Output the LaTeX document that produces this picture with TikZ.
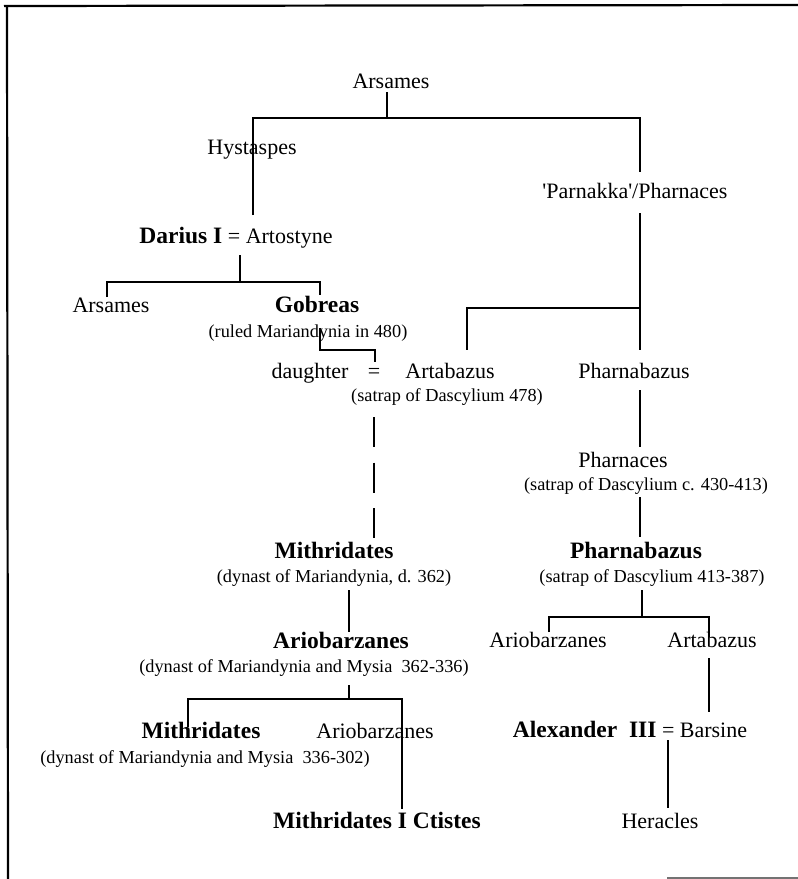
\documentclass[tikz,border=0pt]{standalone}
\usepackage{fontspec}
\setmainfont{Liberation Serif}
\newcommand{\bdf}{\fontsize{23.5}{26}\selectfont\bfseries}
\begin{document}
\begin{tikzpicture}[x=1pt,y=-1pt,
  nm/.style={font=\fontsize{22}{24}\selectfont, anchor=base, inner sep=0pt},
  bd/.style={font=\bdf, anchor=base, inner sep=0pt},
  sm/.style={font=\fontsize{18.3}{20}\selectfont, anchor=base, inner sep=0pt},
  ln/.style={line width=1.7pt, line cap=butt, line join=miter},
  frame/.style={line width=2.2pt}]
\useasboundingbox (0,0) rectangle (798,879);
% frame
\coordinate (f1) at (4,6);
\coordinate (f2) at (798,5);
\coordinate (f3) at (8,879);
\coordinate (f4) at (667,878);
\coordinate (f5) at (798,878);
\draw[frame] (f1) -- (f2);
\draw[frame] (7,6) -- (f3);
\draw[line width=1.6pt, black!55] (f4) -- (f5);
% nodes
\node[nm] (arsames) at (391,88) {Arsames};
\node[nm] (hyst) at (252,154) {Hystaspes};
\node[nm] (parn) at (635,198) {\textquotesingle Parnakka\textquotesingle/Pharnaces};
\node[nm] (darius) at (236,243) {{\bdf Darius I} = Artostyne};
\node[nm] (arsames2) at (111,312) {Arsames};
\node[bd] (gobreas) at (317,312) {Gobreas};
\node[sm] (gobnote) at (308,337) {(ruled Mariandynia in 480)};
\node[nm] (daughter) at (310,378) {daughter};
\node[nm] (eq) at (374,378) {=};
\node[nm] (artabazus) at (450,378) {Artabazus};
\node[sm] (artnote) at (447,401) {(satrap of Dascylium 478)};
\node[nm] (pharnabazus) at (634,378) {Pharnabazus};
\node[nm] (pharnaces) at (623,467) {Pharnaces};
\node[sm] (pharnote) at (646,490) {(satrap of Dascylium c. 430-413)};
\node[bd] (mith1) at (334,558) {Mithridates};
\node[sm] (mith1note) at (334,582) {(dynast of Mariandynia, d. 362)};
\node[bd] (pharn2) at (636,558) {Pharnabazus};
\node[sm] (pharn2note) at (652,582) {(satrap of Dascylium 413-387)};
\node[bd] (ariob) at (341,648) {Ariobarzanes};
\node[sm] (ariobnote) at (304,672) {(dynast of Mariandynia and Mysia\ \ 362-336)};
\node[nm] (ariob2) at (548,647) {Ariobarzanes};
\node[nm] (artab2) at (712,647) {Artabazus};
\node[bd] (mith2) at (201,738) {Mithridates};
\node[sm] (mith2note) at (205,763) {(dynast of Mariandynia and Mysia\ \ 336-302)};
\node[nm] (ariob3) at (375,738) {Ariobarzanes};
\node[nm] (alex) at (630,737) {{\bdf Alexander\ \ III} = Barsine};
\node[bd] (mith3) at (377,828) {Mithridates I Ctistes};
\node[nm] (heracles) at (660,828) {Heracles};
% connectors
\coordinate (a0) at (387,92);   \coordinate (a1) at (387,118);
\coordinate (h0) at (253,215);  \coordinate (h1) at (253,118);
\coordinate (p1) at (640,118);  \coordinate (p0) at (640,172);
\draw[ln] (a0) -- (a1);
\draw[ln] (h0) -- (h1) -- (p1) -- (p0);
\coordinate (p2) at (640,213);  \coordinate (p3) at (640,350);
\coordinate (p4) at (640,308);  \coordinate (p5) at (467,308);
\coordinate (p6) at (467,350);
\draw[ln] (p2) -- (p3);
\draw[ln] (p4) -- (p5) -- (p6);
\coordinate (d0) at (240,255);  \coordinate (d1) at (240,282);
\coordinate (d2) at (107,297);  \coordinate (d3) at (107,282);
\coordinate (d4) at (320,282);  \coordinate (d5) at (320,295);
\draw[ln] (d0) -- (d1);
\draw[ln] (d2) -- (d3) -- (d4) -- (d5);
\coordinate (g0) at (320,328);  \coordinate (g1) at (320,350);
\coordinate (g2) at (375,350);  \coordinate (g3) at (375,362);
\draw[ln] (g0) -- (g1) -- (g2) -- (g3);
\coordinate (m0) at (374,417);  \coordinate (m1) at (374,538);
\draw[ln, dash pattern=on 30pt off 15.5pt] (m0) -- (m1);
\coordinate (m2) at (349,590);  \coordinate (m3) at (349,632);
\draw[ln] (m2) -- (m3);
\coordinate (r0) at (349,685);  \coordinate (r1) at (349,699);
\coordinate (r2) at (188,727);  \coordinate (r3) at (188,699);
\coordinate (r4) at (402,699);  \coordinate (r5) at (402,809);
\draw[ln] (r0) -- (r1);
\draw[ln] (r2) -- (r3) -- (r4) -- (r5);
\coordinate (q0) at (640,390);  \coordinate (q1) at (640,447);
\coordinate (q2) at (640,497);  \coordinate (q3) at (640,537);
\draw[ln] (q0) -- (q1);
\draw[ln] (q2) -- (q3);
\coordinate (s0) at (642,590);  \coordinate (s1) at (642,617);
\coordinate (s2) at (549,632);  \coordinate (s3) at (549,617);
\coordinate (s4) at (709,617);  \coordinate (s5) at (709,637);
\draw[ln] (s0) -- (s1);
\draw[ln] (s2) -- (s3) -- (s4) -- (s5);
\coordinate (t0) at (709,658);  \coordinate (t1) at (709,712);
\draw[ln] (t0) -- (t1);
\coordinate (x0) at (668,740);  \coordinate (x1) at (668,808);
\draw[ln] (x0) -- (x1);
\end{tikzpicture}
\end{document}
